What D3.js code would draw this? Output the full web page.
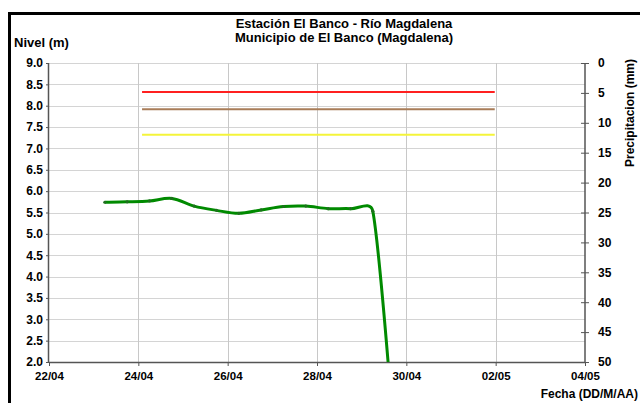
<!DOCTYPE html>
<html><head><meta charset="utf-8">
<script src="https://cdn.jsdelivr.net/npm/d3@7"></script>
<style>
html,body{margin:0;padding:0;background:#fff;}
svg text{font-family:"Liberation Sans",Arial,sans-serif;font-weight:bold;fill:#000;}
</style></head>
<body>
<svg id="c" width="640" height="403"></svg>
<script>
// ---- data ----
const titleLines = ["Estación El Banco - Río Magdalena", "Municipio de El Banco (Magdalena)"];
const dates = ["2024-04-23 06:00","2024-04-23 18:00","2024-04-24 06:00","2024-04-24 18:00",
  "2024-04-25 06:00","2024-04-25 18:00","2024-04-26 06:00","2024-04-26 18:00",
  "2024-04-27 06:00","2024-04-27 18:00","2024-04-28 06:00","2024-04-28 18:00",
  "2024-04-29 06:00","2024-04-29 18:00"];
const levels = [5.74,5.75,5.77,5.83,5.65,5.55,5.48,5.56,5.64,5.65,5.59,5.59,5.53,0];
const thresholdValues = [8.32, 7.92, 7.32];
const thresholdColors = ["#ff2020", "#a87c58", "#f4f43a"];
const thresholdStart = "2024-04-24 02:00";
const thresholdEnd = "2024-05-01 23:30";
const xDomain = ["2024-04-22 00:00","2024-05-04 00:00"];
const xTicks = ["2024-04-22 00:00","2024-04-24 00:00","2024-04-26 00:00","2024-04-28 00:00","2024-04-30 00:00","2024-05-02 00:00","2024-05-04 00:00"];
const yTicks = [2.0,2.5,3.0,3.5,4.0,4.5,5.0,5.5,6.0,6.5,7.0,7.5,8.0,8.5,9.0];
const rightTicks = [0,5,10,15,20,25,30,35,40,45,50];

// ---- layout ----
const parse = d3.timeParse("%Y-%m-%d %H:%M");
const L = 49, R = 585, T = 63, B = 362;
const svg = d3.select("#c");

const x = d3.scaleTime().domain(xDomain.map(parse)).range([L, R]);
const y = d3.scaleLinear().domain([2, 9]).range([B, T]);
const y2 = d3.scaleLinear().domain([0, 50]).range([T, B]);

// frame
svg.append("rect").attr("x", 9.5).attr("y", 13.5).attr("width", 640).attr("height", 400)
  .attr("fill", "none").attr("stroke", "#000").attr("stroke-width", 3);

// gridlines
svg.append("g").selectAll("line").data(yTicks.filter(d => d > 2))
  .join("line").attr("x1", L).attr("x2", R).attr("y1", d => Math.round(y(d)) + 0.5).attr("y2", d => Math.round(y(d)) + 0.5)
  .attr("stroke", "#d4d4d4").attr("stroke-width", 1);
svg.append("g").selectAll("line").data(xTicks.map(parse).slice(1, -1))
  .join("line").attr("y1", T).attr("y2", B).attr("x1", d => Math.round(x(d)) + 0.5).attr("x2", d => Math.round(x(d)) + 0.5)
  .attr("stroke", "#c8c8c8").attr("stroke-width", 1);

// thresholds
svg.append("g").selectAll("line").data(thresholdValues)
  .join("line")
  .attr("x1", x(parse(thresholdStart))).attr("x2", x(parse(thresholdEnd)))
  .attr("y1", d => y(d)).attr("y2", d => y(d))
  .attr("stroke", (d, i) => thresholdColors[i]).attr("stroke-width", 2);

// axes
const axisColor = "#555";
const gl = svg.append("g").attr("transform", `translate(${L},0)`)
  .call(d3.axisLeft(y).tickValues(yTicks).tickFormat(d3.format(".1f")).tickSize(3).tickPadding(3));
const gb = svg.append("g").attr("transform", `translate(0,${B})`)
  .call(d3.axisBottom(x).tickValues(xTicks.map(parse)).tickFormat(d3.timeFormat("%d/%m")).tickSize(4).tickPadding(6));
const gr = svg.append("g").attr("transform", `translate(${R},0)`)
  .call(d3.axisRight(y2).tickValues(rightTicks).tickSize(4).tickPadding(9));
gr.selectAll(".tick line").attr("x1", -4);
[gl, gb, gr].forEach(g => {
  g.select(".domain").attr("stroke", axisColor).attr("stroke-width", 1.5);
  g.selectAll(".tick line").attr("stroke", axisColor);
  g.selectAll("text").attr("font-size", 12).attr("font-family", "Liberation Sans, Arial, sans-serif").attr("font-weight", "bold").attr("fill", "#000");
});
gb.selectAll("text").attr("font-size", 11.5);
gl.select(".domain").attr("d", `M-0.5,${T}V${B}`);
gr.select(".domain").attr("d", `M0,${T}V${B}`);
gb.select(".domain").attr("d", `M${L},0.5H${R}`);

// clip
svg.append("clipPath").attr("id", "pc").append("rect").attr("x", L).attr("y", T).attr("width", R - L).attr("height", B - T);

// Excel-style smoothed line (Bezier, tension 1/6, arm capped at half segment length)
function excelSmooth(P) {
  const dist = (a, b) => Math.hypot(a[0] - b[0], a[1] - b[1]);
  let d = `M${P[0][0]},${P[0][1]}`;
  for (let i = 0; i < P.length - 1; i++) {
    const p0 = P[Math.max(i - 1, 0)], p1 = P[i], p2 = P[i + 1], p3 = P[Math.min(i + 2, P.length - 1)];
    const d12 = dist(p1, p2), d02 = dist(p0, p2), d13 = dist(p1, p3);
    let f1 = 1 / 6, f2 = 1 / 6;
    if (d02 > 0 && d02 / 6 > d12 / 2) f1 = d12 / 2 / d02;
    if (d13 > 0 && d13 / 6 > d12 / 2) f2 = d12 / 2 / d13;
    const c1 = [p1[0] + (p2[0] - p0[0]) * f1, p1[1] + (p2[1] - p0[1]) * f1];
    const c2 = [p2[0] - (p3[0] - p1[0]) * f2, p2[1] - (p3[1] - p1[1]) * f2];
    d += `C${c1[0]},${c1[1]} ${c2[0]},${c2[1]} ${p2[0]},${p2[1]}`;
  }
  return d;
}

const pts = dates.map((d, i) => ({t: parse(d), v: levels[i]}));
const g = svg.append("g").attr("clip-path", "url(#pc)");
g.append("path")
  .attr("d", excelSmooth(pts.map(p => [x(p.t), y(p.v)])))
  .attr("fill", "none").attr("stroke", "#008a00").attr("stroke-width", 3);
g.selectAll("circle").data(pts).join("circle")
  .attr("cx", d => x(d.t)).attr("cy", d => y(d.v)).attr("r", 1.6).attr("fill", "#1f6f1f");

// titles
svg.append("text").attr("x", 344).attr("y", 28).attr("text-anchor", "middle").attr("font-size", 13).text(titleLines[0]);
svg.append("text").attr("x", 344).attr("y", 42).attr("text-anchor", "middle").attr("font-size", 13).text(titleLines[1]);
svg.append("text").attr("x", 14).attr("y", 47).attr("font-size", 13).text("Nivel (m)");
svg.append("text").attr("x", 638).attr("y", 398).attr("text-anchor", "end").attr("font-size", 12).text("Fecha (DD/M/AA)");
svg.append("text").attr("transform", "translate(634,113) rotate(-90)").attr("text-anchor", "middle").attr("font-size", 12).text("Precipitacion (mm)");
</script>
</body></html>
